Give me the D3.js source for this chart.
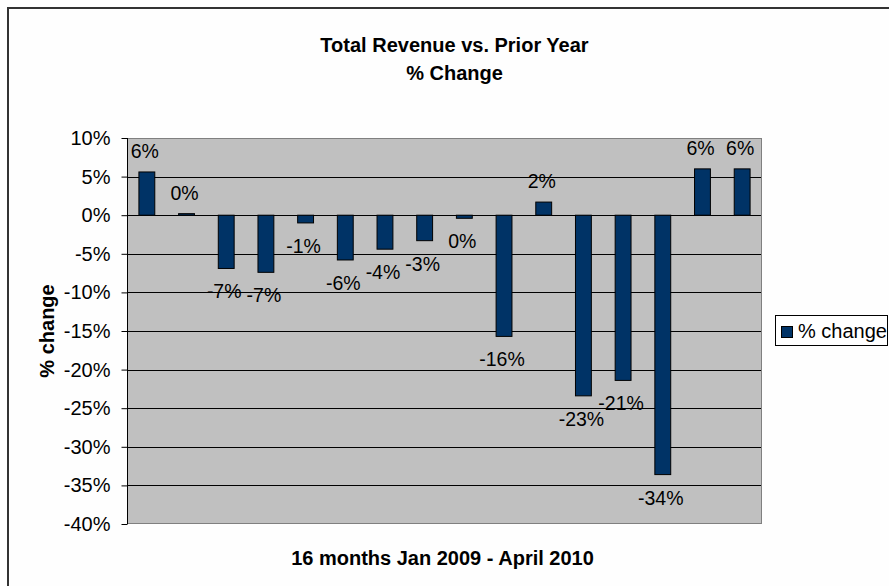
<!DOCTYPE html>
<html>
<head>
<meta charset="utf-8">
<script src="https://cdn.jsdelivr.net/npm/d3@7"></script>
<style>
  html, body { margin: 0; padding: 0; background: #ffffff; }
  svg { display: block; font-family: "Liberation Sans", Arial, sans-serif; }
</style>
</head>
<body>
<svg id="chart" width="889" height="586"></svg>
<script>
// ---- data ----
const categories = ["Jan 2009","Feb 2009","Mar 2009","Apr 2009","May 2009","Jun 2009","Jul 2009","Aug 2009",
                    "Sep 2009","Oct 2009","Nov 2009","Dec 2009","Jan 2010","Feb 2010","Mar 2010","Apr 2010"];
const pctChange = [5.6, 0.2, -6.9, -7.4, -1.0, -5.8, -4.4, -3.3, -0.4, -15.7, 1.7, -23.4, -21.4, -33.6, 6.0, 6.0];
const yTicks = [10, 5, 0, -5, -10, -15, -20, -25, -30, -35, -40];
const titleLines = ["Total Revenue vs. Prior Year", "% Change"];
const xTitle = "16 months Jan 2009 - April 2010";
const yTitle = "% change";
const seriesName = "% change";

// ---- layout ----
const svg = d3.select("#chart");
const W = 889, H = 586;
const plot = { left: 127, right: 762, top: 138, bottom: 524 };
const barColor = "#003366";

svg.append("rect").attr("x", 0).attr("y", 0).attr("width", W).attr("height", H).attr("fill", "#fefefe");
// outer chart border (runs off the right and bottom edges)
svg.append("rect").attr("x", 8).attr("y", 8).attr("width", W + 20).attr("height", H + 20)
  .attr("fill", "none").attr("stroke", "#333").attr("stroke-width", 2);

const x = d3.scaleBand().domain(categories).range([plot.left, plot.right]).paddingInner(0.6).paddingOuter(0.3);
const y = d3.scaleLinear().domain([-40, 10]).range([plot.bottom, plot.top]);

// plot area
svg.append("rect").attr("x", plot.left).attr("y", plot.top)
  .attr("width", plot.right - plot.left).attr("height", plot.bottom - plot.top)
  .attr("fill", "#c0c0c0");

// gridlines
svg.append("g").selectAll("line").data(yTicks.filter(t => t < 10 && t > -40)).join("line")
  .attr("x1", plot.left).attr("x2", plot.right)
  .attr("y1", d => Math.round(y(d)) + 0.5).attr("y2", d => Math.round(y(d)) + 0.5)
  .attr("stroke", "#000").attr("stroke-width", 1);

// plot border
svg.append("rect").attr("x", plot.left + 0.5).attr("y", plot.top + 0.5)
  .attr("width", plot.right - plot.left - 1).attr("height", plot.bottom - plot.top - 1)
  .attr("fill", "none").attr("stroke", "#808080").attr("stroke-width", 1);

// bars
svg.append("g").selectAll("rect").data(pctChange).join("rect")
  .attr("x", (d, i) => x(categories[i]))
  .attr("width", x.bandwidth())
  .attr("y", d => y(Math.max(0, d)))
  .attr("height", d => Math.abs(y(d) - y(0)))
  .attr("fill", barColor).attr("stroke", "#000").attr("stroke-width", 1);

// y axis
const yAxis = d3.axisLeft(y).tickValues(yTicks).tickFormat(d => d + "%").tickSize(6).tickPadding(11);
const gy = svg.append("g").attr("transform", `translate(${plot.left + 0.5},0)`).call(yAxis);
gy.select(".domain").attr("stroke", "#000").attr("d", `M0,${plot.top}V${plot.bottom}`);
gy.selectAll(".tick line").attr("stroke", "#000");
gy.selectAll(".tick text").attr("fill", "#000").attr("font-size", 20)
  .attr("font-family", '"Liberation Sans", Arial, sans-serif');

// data labels
svg.append("g").selectAll("text").data(pctChange).join("text")
  .attr("x", (d, i) => x(categories[i]) + x.bandwidth() / 2 - 2)
  .attr("y", d => d >= 0 ? y(d) - 21 : y(d) + 23)
  .attr("dy", "0.36em")
  .attr("text-anchor", "middle")
  .attr("font-size", 19.5).attr("fill", "#000")
  .text(d => String(Math.round(d)) + "%");

// titles
const cx = (plot.left + plot.right) / 2 + 10;
svg.append("g").selectAll("text").data(titleLines).join("text")
  .attr("x", cx).attr("y", (d, i) => 45 + i * 28).attr("dy", "0.36em")
  .attr("text-anchor", "middle").attr("font-weight", "bold").attr("font-size", 20).attr("fill", "#000")
  .text(d => d);

svg.append("text").attr("x", (plot.left + plot.right) / 2 - 2).attr("y", 558).attr("dy", "0.36em")
  .attr("text-anchor", "middle").attr("font-weight", "bold").attr("font-size", 20).attr("fill", "#000")
  .text(xTitle);

svg.append("text").attr("transform", `translate(47,${(plot.top + plot.bottom) / 2}) rotate(-90)`)
  .attr("dy", "0.36em").attr("text-anchor", "middle").attr("font-weight", "bold").attr("font-size", 20)
  .attr("fill", "#000").text(yTitle);

// legend
const lg = svg.append("g");
lg.append("rect").attr("x", 775.5).attr("y", 315.5).attr("width", 112).attr("height", 30)
  .attr("fill", "#fff").attr("stroke", "#000").attr("stroke-width", 1);
lg.append("rect").attr("x", 781.5).attr("y", 326.5).attr("width", 11).attr("height", 11)
  .attr("fill", barColor).attr("stroke", "#000").attr("stroke-width", 1);
lg.append("text").attr("x", 798).attr("y", 331).attr("dy", "0.36em")
  .attr("font-size", 20).attr("fill", "#000").text(seriesName);
</script>
</body>
</html>
